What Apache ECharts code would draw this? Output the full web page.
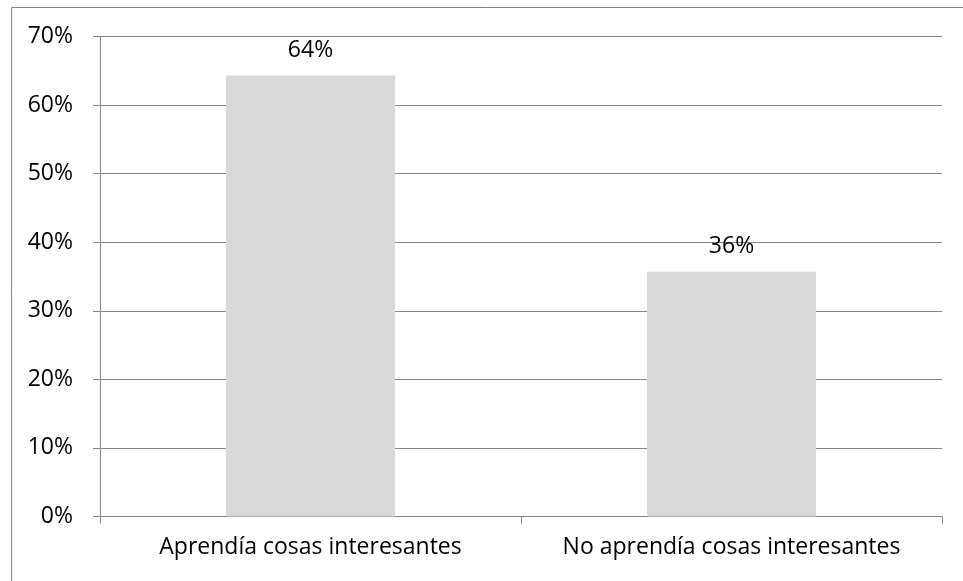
<!DOCTYPE html>
<html><head><meta charset="utf-8">
<script src="https://cdn.jsdelivr.net/npm/echarts@6/dist/echarts.min.js"></script>
<style>html,body{margin:0;padding:0;background:#fff}#c{width:963px;height:581px}</style>
</head><body><div id="c"></div>
<script>
var categories = ["Aprendía cosas interesantes", "No aprendía cosas interesantes"];
var values = [64.3, 35.7];
var labels = ["64%", "36%"];
var yTicks = [0, 10, 20, 30, 40, 50, 60, 70];

var chart = echarts.init(document.getElementById('c'), null, {renderer: 'canvas'});
var font = '"Open Sans", "Noto Sans", sans-serif';
chart.setOption({
  animation: false,
  graphic: [{type: 'rect', shape: {x: 11.5, y: 7.5, width: 1000, height: 1000}, style: {fill: 'none', stroke: '#868686', lineWidth: 1}, silent: true}],
  grid: {left: 100, right: 21, top: 36.5, bottom: 64.5, containLabel: false},
  xAxis: {
    type: 'category', data: categories,
    axisLine: {lineStyle: {color: '#868686', width: 1}},
    axisTick: {show: true, length: 7, interval: 0, alignWithLabel: false, lineStyle: {color: '#868686'}},
    axisLabel: {color: '#000', fontSize: 23, fontFamily: font, margin: 19, interval: 0, hideOverlap: false}
  },
  yAxis: {
    type: 'value', min: 0, max: 70, interval: 10,
    axisLine: {show: true, lineStyle: {color: '#868686', width: 1}},
    axisTick: {show: true, length: 7, inside: false, lineStyle: {color: '#868686'}},
    splitLine: {show: true, lineStyle: {color: '#868686', width: 1}},
    axisLabel: {color: '#000', fontSize: 23, fontFamily: font, margin: 27,
      formatter: function (v) { return yTicks.indexOf(v) >= 0 ? v + '%' : ''; }}
  },
  series: [{
    type: 'bar', data: values, barWidth: 169,
    itemStyle: {color: '#d9d9d9'},
    label: {show: true, position: 'top', distance: 14, color: '#000', fontSize: 23, fontFamily: font,
      formatter: function (p) { return labels[p.dataIndex]; }}
  }]
});
</script></body></html>
